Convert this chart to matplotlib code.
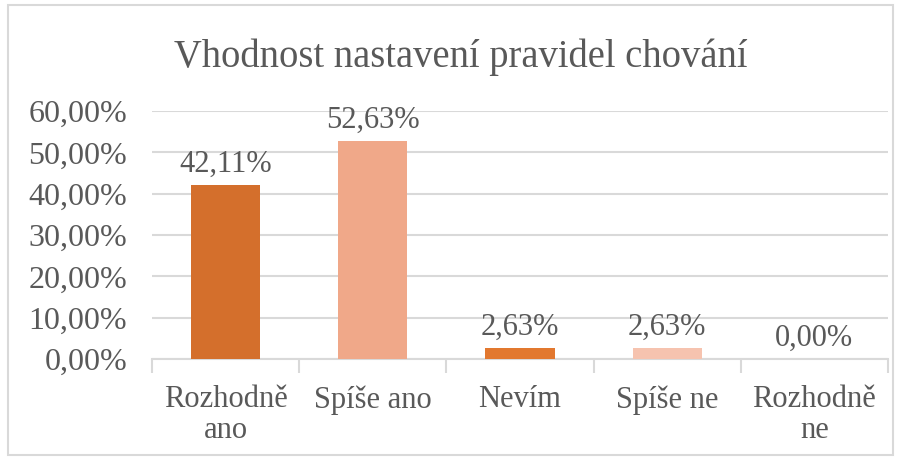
import numpy as np
import matplotlib
matplotlib.use('Agg')
import matplotlib.pyplot as plt
from matplotlib.patches import Rectangle

categories = ['Rozhodně\nano', 'Spíše ano', 'Nevím', 'Spíše ne', 'Rozhodně\nne']
values = [42.11, 52.63, 2.63, 2.63, 0.00]
colors = ['#D46F2C', '#F0A889', '#E2782F', '#F6C3AF', '#D46F2C']
yticks = [0, 10, 20, 30, 40, 50, 60]

plt.rcParams['font.family'] = ['Liberation Serif', 'DejaVu Serif']
txt = '#595959'

fig = plt.figure(figsize=(9.01, 4.57), dpi=100)
ax = fig.add_axes([152/901, 1 - 359/457, (888-152)/901, (359-111)/457])

x = np.arange(len(categories))
ax.bar(x, values, width=0.47, color=colors, zorder=3)
for xi, v in zip(x, values):
    ax.text(xi, v + 1.5, ('%.2f%%' % v).replace('.', ','), ha='center', va='bottom',
            fontsize=22, color=txt, zorder=4)

ax.set_xlim(-0.5, len(categories) - 0.5)
ax.set_ylim(0, 60)
ax.set_yticks(yticks)
ax.set_yticklabels([('%.2f%%' % t).replace('.', ',') for t in yticks], fontsize=23, color=txt)
ax.yaxis.grid(True, color='#D9D9D9', linewidth=1.5, zorder=0)
ax.tick_params(axis='y', length=0, pad=18)

ax.set_xticks(np.arange(-0.5, len(categories)), minor=False)
ax.set_xticklabels([])
ax.tick_params(axis='x', length=10, color='#D9D9D9', width=1.5, direction='out')
for xi, c in zip(x, categories):
    ax.text(xi, -0.105, c, transform=ax.get_xaxis_transform(), ha='center', va='top',
            fontsize=22, color=txt, linespacing=1.1)

for s in ['top', 'right', 'left']:
    ax.spines[s].set_visible(False)
ax.spines['bottom'].set_color('#D9D9D9')
ax.spines['bottom'].set_linewidth(1.5)

fig.text(0.5 + 10/901, 1 - 57/457, 'Vhodnost nastavení pravidel chování', ha='center', va='center',
         fontsize=27.8, color=txt)
fig.patches.append(Rectangle((8/901, 2/457), 885/901, 450/457, transform=fig.transFigure,
                             fill=False, edgecolor='#D9D9D9', linewidth=1.5))

fig.savefig('out.png', dpi=100)
